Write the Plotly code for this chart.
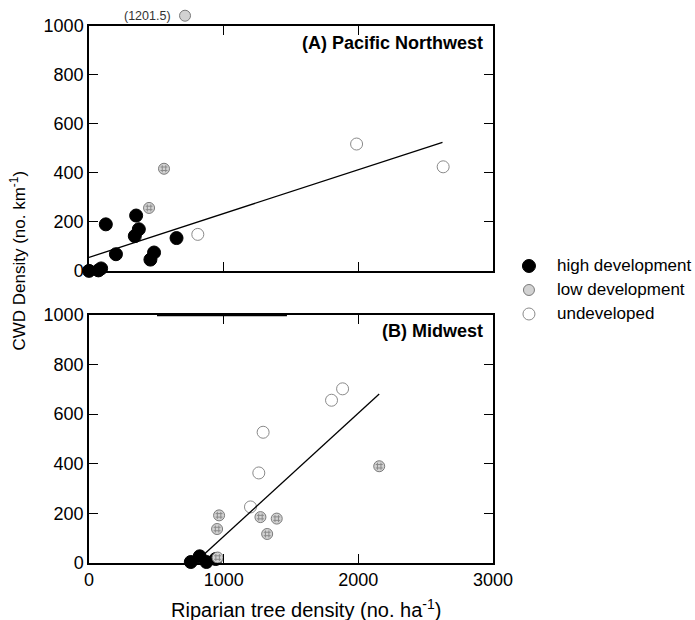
import plotly.graph_objects as go

# ---- Panel A: Pacific Northwest ----
pnw_high_x = [0, 70, 90, 125, 200, 340, 350, 370, 456, 483, 650]
pnw_high_y = [0, 2, 10, 190, 68, 142, 226, 170, 46, 75, 134]
pnw_low_x = [446, 557, 713]
pnw_low_y = [257, 417, 1201.5]
pnw_und_x = [808, 1987, 2630]
pnw_und_y = [149, 518, 425]
pnw_fit_x = [0, 2625]
pnw_fit_y = [55, 525]

# ---- Panel B: Midwest ----
mw_high_x = [756, 822, 872, 941]
mw_high_y = [4, 27, 4, 16]
mw_low_x = [955, 951, 966, 1273, 1323, 1394, 2155]
mw_low_y = [22, 137, 192, 185, 117, 179, 390]
mw_und_x = [1199, 1261, 1293, 1801, 1883]
mw_und_y = [226, 363, 527, 656, 702]
mw_fit_x = [845, 2155]
mw_fit_y = [30, 681]

legend_labels = ["high development", "low development", "undeveloped"]

y_ticks = [0, 200, 400, 600, 800, 1000]
x_ticks = [0, 1000, 2000, 3000]
y_max = 1000
off_scale_y = 1042  # off-scale values are parked just above the frame

FONT = "Liberation Sans, Arial, sans-serif"

high_style = dict(color="black", size=13, line=dict(color="black", width=1))
low_style = dict(color="#d2d2d2", size=11, line=dict(color="#7a7a7a", width=1))
und_style = dict(color="white", size=12, line=dict(color="#8a8a8a", width=1))
styles = [high_style, low_style, und_style]
hatch_style = dict(symbol="hash-open", size=7, color="#8a8a8a",
                   line=dict(color="#8a8a8a", width=1))

fig = go.Figure()


def add_group(xs, ys, xa, ya, style, name, hatch=False):
    keep = [(a, b) for a, b in zip(xs, ys) if b <= y_max]
    px = [a for a, _ in keep]
    py = [b for _, b in keep]
    fig.add_trace(go.Scatter(
        x=px, y=py, mode="markers",
        marker=dict(symbol="circle", **style), name=name, showlegend=False,
        xaxis=xa, yaxis=ya, cliponaxis=False,
    ))
    if hatch:
        fig.add_trace(go.Scatter(
            x=px, y=py, mode="markers", marker=hatch_style, name=name,
            showlegend=False, hoverinfo="skip", xaxis=xa, yaxis=ya,
            cliponaxis=False,
        ))


add_group(pnw_high_x, pnw_high_y, "x", "y", high_style, legend_labels[0])
add_group(pnw_low_x, pnw_low_y, "x", "y", low_style, legend_labels[1], True)
add_group(pnw_und_x, pnw_und_y, "x", "y", und_style, legend_labels[2])
fig.add_trace(go.Scatter(x=pnw_fit_x, y=pnw_fit_y, mode="lines",
                         line=dict(color="black", width=1.3),
                         showlegend=False, xaxis="x", yaxis="y"))

add_group(mw_high_x, mw_high_y, "x2", "y2", high_style, legend_labels[0])
add_group(mw_low_x, mw_low_y, "x2", "y2", low_style, legend_labels[1], True)
add_group(mw_und_x, mw_und_y, "x2", "y2", und_style, legend_labels[2])
fig.add_trace(go.Scatter(x=mw_fit_x, y=mw_fit_y, mode="lines",
                         line=dict(color="black", width=1.3),
                         showlegend=False, xaxis="x2", yaxis="y2"))


def circle(xref, yref, xa, ya, style):
    r = style["size"] / 2
    fig.add_shape(type="circle", xref=xref, yref=yref,
                  xsizemode="pixel", ysizemode="pixel",
                  xanchor=xa, yanchor=ya, x0=-r, x1=r, y0=-r, y1=r,
                  fillcolor=style["color"],
                  line=dict(color=style["line"]["color"], width=1))


# off-scale value in panel A: marker above the frame plus its value in brackets
for xv, yv in zip(pnw_low_x, pnw_low_y):
    if yv > y_max:
        yd = off_scale_y / y_max
        circle("x", "y domain", xv, yd, low_style)
        fig.add_annotation(x=xv, y=yd, xref="x", yref="y domain",
                           text=f"({yv})", showarrow=False, xanchor="right",
                           yanchor="middle", xshift=-12,
                           font=dict(size=12.5, color="#333", family=FONT))

# heavier stretch on the top frame of panel B
fig.add_shape(type="line", xref="x2", yref="y2 domain", x0=505, x1=1470,
              y0=1, y1=1, line=dict(color="black", width=2.5))

# key, placed to the right of the panels
key_y = [0.5531, 0.5084, 0.4637]
for label, style, ky in zip(legend_labels, styles, key_y):
    circle("paper", "paper", 1.089, ky, style)
    fig.add_annotation(x=1.1535, y=ky, xref="paper", yref="paper",
                       text=label, showarrow=False, xanchor="left",
                       yanchor="middle",
                       font=dict(size=17, family=FONT, color="black"))

axis_common = dict(
    range=[0, 3000], tickvals=x_ticks, ticks="inside", ticklen=9,
    tickwidth=1.2, tickcolor="black", showline=True, linecolor="black",
    linewidth=1.5, mirror="ticks", showgrid=False, zeroline=False,
    tickfont=dict(size=18, color="black", family=FONT),
)
yaxis_common = dict(
    range=[0, 1000], tickvals=y_ticks, ticks="inside", ticklen=9,
    tickwidth=1.2, tickcolor="black", showline=True, linecolor="black",
    linewidth=1.5, mirror="ticks", showgrid=False, zeroline=False,
    tickfont=dict(size=18, color="black", family=FONT),
)

fig.update_layout(
    width=695, height=620,
    margin=dict(l=89, r=202, t=26, b=57),
    paper_bgcolor="white", plot_bgcolor="white",
    font=dict(family=FONT, color="black"),
    xaxis=dict(**axis_common, showticklabels=False, anchor="y"),
    yaxis=dict(**yaxis_common, domain=[0.544, 1.0], anchor="x"),
    xaxis2=dict(**axis_common, anchor="y2"),
    yaxis2=dict(**yaxis_common, domain=[0.0, 0.462], anchor="x2"),
    showlegend=False,
)

fig.add_annotation(x=0.98, y=0.99, xref="paper", yref="paper",
                   text="<b>(A) Pacific Northwest</b>", showarrow=False,
                   xanchor="right", yanchor="top",
                   font=dict(size=18, family=FONT, color="black"))
fig.add_annotation(x=0.98, y=0.455, xref="paper", yref="paper",
                   text="<b>(B) Midwest</b>", showarrow=False,
                   xanchor="right", yanchor="top",
                   font=dict(size=18, family=FONT, color="black"))

fig.add_annotation(x=-0.176, y=0.563, xref="paper", yref="paper",
                   text="CWD Density (no. km<sup>-1</sup>)", showarrow=False,
                   textangle=-90, xanchor="center", yanchor="middle",
                   font=dict(size=17, family=FONT, color="black"))
fig.add_annotation(x=0.537, y=-0.084, xref="paper", yref="paper",
                   text="Riparian tree density (no. ha<sup>-1</sup>)",
                   showarrow=False, xanchor="center", yanchor="middle",
                   font=dict(size=20, family=FONT, color="black"))

fig.write_html("out.html")
